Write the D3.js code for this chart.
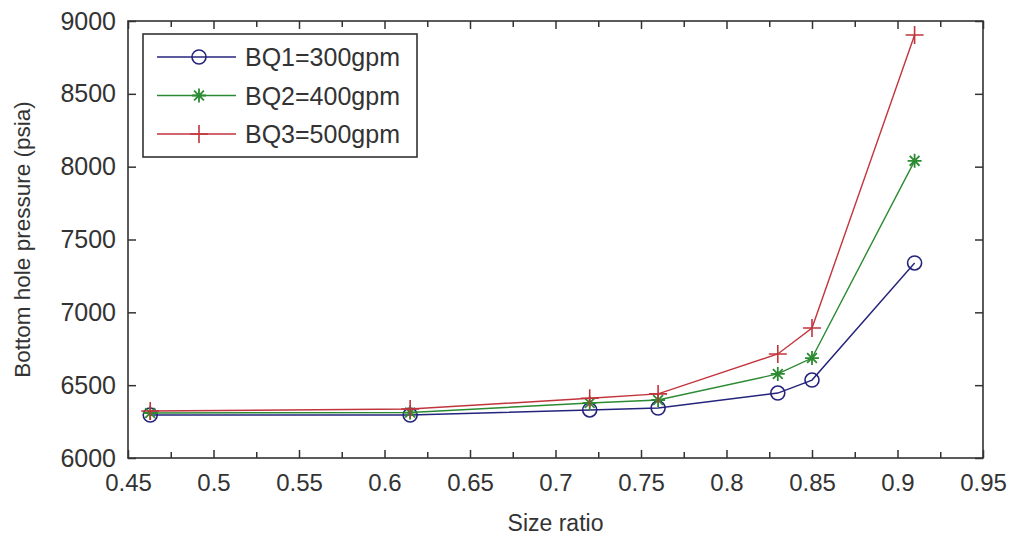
<!DOCTYPE html>
<html>
<head>
<meta charset="utf-8">
<script src="https://cdn.jsdelivr.net/npm/d3@7"></script>
<style>
  body { margin: 0; background: #fff; }
  svg text { font-family: "Liberation Sans", Arial, sans-serif; fill: #333; }
</style>
</head>
<body>
<div id="chart"></div>
<script>
// size ratio on the x axis
const sizeRatio = [0.463, 0.615, 0.72, 0.76, 0.83, 0.85, 0.91];
// bottom hole pressure (psia) for each flow rate
const bq1 = [6295, 6295, 6330, 6343, 6446, 6535, 7339];
const bq2 = [6309, 6312, 6378, 6398, 6577, 6686, 8040];
const bq3 = [6323, 6336, 6410, 6440, 6714, 6892, 8904];
const seriesNames = ["BQ1=300gpm", "BQ2=400gpm", "BQ3=500gpm"];
const xTicks = [0.45, 0.5, 0.55, 0.6, 0.65, 0.7, 0.75, 0.8, 0.85, 0.9, 0.95];
const yTicks = [6000, 6500, 7000, 7500, 8000, 8500, 9000];

const width = 1015, height = 540;
const margin = { top: 21, right: 32, bottom: 82, left: 128 };

let svg = d3.select("#chart").append("svg")
    .attr("width", width)
    .attr("height", height);

let x = d3.scaleLinear().domain([0.45, 0.95]).range([margin.left, width - margin.right]);
let y = d3.scaleLinear().domain([6000, 9000]).range([height - margin.bottom, margin.top]);

let series = [
    { name: seriesNames[0], values: bq1, color: "#24247c", marker: "circle" },
    { name: seriesNames[1], values: bq2, color: "#2b8a32", marker: "star" },
    { name: seriesNames[2], values: bq3, color: "#c2343c", marker: "plus" }
];

// minor ticks halfway between the labelled ones
let minorX = d3.range(0.475, 0.95, 0.05);

// bottom axis
let xAxis = svg.append("g")
    .attr("transform", `translate(0, ${y(6000)})`)
    .call(d3.axisBottom(x).tickValues(xTicks).tickSize(-8).tickPadding(16).tickFormat(d3.format("")));
xAxis.selectAll("text").style("font-size", "24px");
xAxis.selectAll(".domain").remove();
svg.append("g")
    .attr("transform", `translate(0, ${y(6000)})`)
    .call(d3.axisBottom(x).tickValues(minorX).tickSize(-6).tickFormat(""))
    .select(".domain").remove();

// top axis, ticks only
svg.append("g")
    .attr("transform", `translate(0, ${y(9000)})`)
    .call(d3.axisTop(x).tickValues(xTicks).tickSize(-8).tickFormat(""))
    .select(".domain").remove();
svg.append("g")
    .attr("transform", `translate(0, ${y(9000)})`)
    .call(d3.axisTop(x).tickValues(minorX).tickSize(-6).tickFormat(""))
    .select(".domain").remove();

// left axis
let yAxis = svg.append("g")
    .attr("transform", `translate(${x(0.45)}, 0)`)
    .call(d3.axisLeft(y).tickValues(yTicks).tickSize(-8).tickPadding(12).tickFormat(d3.format("d")));
yAxis.selectAll("text").style("font-size", "25px");
yAxis.selectAll(".domain").remove();

// right axis, ticks only
svg.append("g")
    .attr("transform", `translate(${x(0.95)}, 0)`)
    .call(d3.axisRight(y).tickValues(yTicks).tickSize(-8).tickFormat(""))
    .select(".domain").remove();

svg.selectAll(".tick line").attr("stroke", "#333").attr("stroke-width", 1.5);

// frame
svg.append("rect")
    .attr("x", x(0.45))
    .attr("y", y(9000))
    .attr("width", x(0.95) - x(0.45))
    .attr("height", y(6000) - y(9000))
    .attr("fill", "none")
    .attr("stroke", "#333")
    .attr("stroke-width", 1.6);

// axis titles
svg.append("text")
    .attr("x", (x(0.45) + x(0.95)) / 2)
    .attr("y", 531)
    .attr("text-anchor", "middle")
    .style("font-size", "23px")
    .text("Size ratio");

svg.append("text")
    .attr("transform", `translate(30, ${(y(6000) + y(9000)) / 2}) rotate(-90)`)
    .attr("text-anchor", "middle")
    .style("font-size", "22.5px")
    .text("Bottom hole pressure (psia)");

function drawMarker(g, type, color) {
    if (type === "circle") {
        g.append("circle").attr("r", 7).attr("fill", "none").attr("stroke", color).attr("stroke-width", 1.6);
    } else if (type === "star") {
        let s = 7;
        let p = `M${-s},0L${s},0M0,${-s}L0,${s}M${-s * 0.7},${-s * 0.7}L${s * 0.7},${s * 0.7}M${-s * 0.7},${s * 0.7}L${s * 0.7},${-s * 0.7}`;
        g.append("path").attr("d", p).attr("stroke", color).attr("stroke-width", 1.8);
    } else {
        let s = 9;
        g.append("path").attr("d", `M${-s},0L${s},0M0,${-s}L0,${s}`).attr("stroke", color).attr("stroke-width", 1.6);
    }
}

let line = d3.line()
    .x((d, i) => x(sizeRatio[i]))
    .y(d => y(d));

series.forEach(s => {
    svg.append("path")
        .datum(s.values)
        .attr("d", line)
        .attr("fill", "none")
        .attr("stroke", s.color)
        .attr("stroke-width", 1.4);
    s.values.forEach((v, i) => {
        let g = svg.append("g").attr("transform", `translate(${x(sizeRatio[i])}, ${y(v)})`);
        drawMarker(g, s.marker, s.color);
    });
});

// legend
let legend = svg.append("g");
legend.append("rect")
    .attr("x", 143).attr("y", 34)
    .attr("width", 274).attr("height", 123)
    .attr("fill", "#fff")
    .attr("stroke", "#333")
    .attr("stroke-width", 1.6);

series.forEach((s, i) => {
    let ly = 57 + i * 38.5;
    legend.append("line")
        .attr("x1", 157).attr("x2", 236)
        .attr("y1", ly).attr("y2", ly)
        .attr("stroke", s.color).attr("stroke-width", 1.4);
    drawMarker(legend.append("g").attr("transform", `translate(199, ${ly})`), s.marker, s.color);
    legend.append("text")
        .attr("x", 245).attr("y", ly + 9)
        .style("font-size", "25px")
        .text(s.name);
});
</script>
</body>
</html>
